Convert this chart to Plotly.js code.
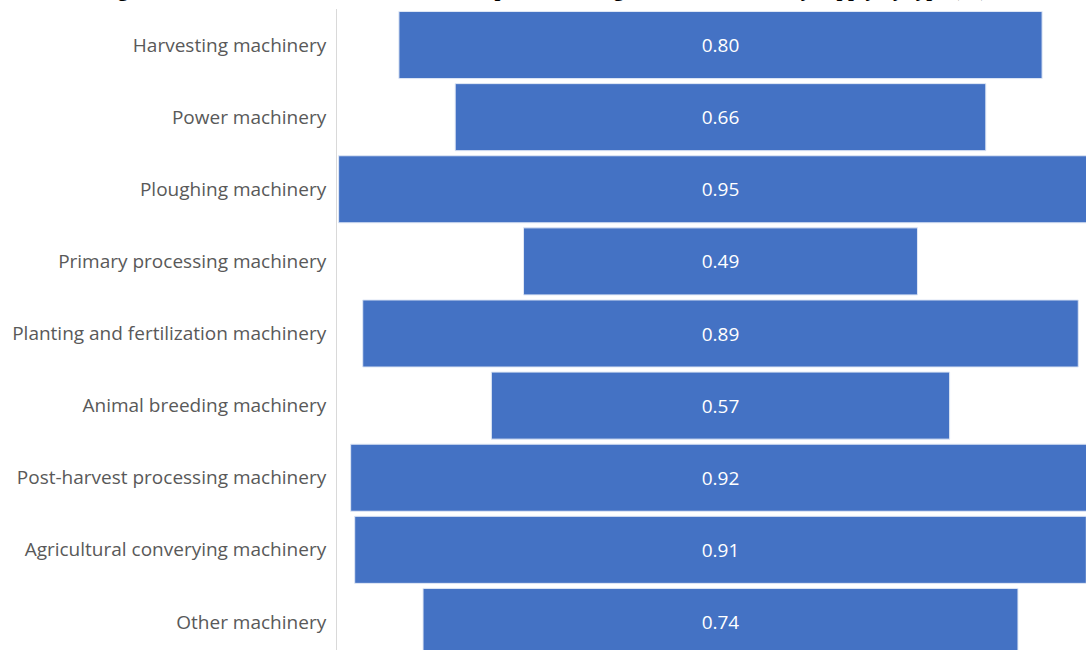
<!DOCTYPE html>
<html>
<head>
<meta charset="utf-8">
<script src="https://cdn.plot.ly/plotly-3.0.1.min.js"></script>
<style>
html, body { margin: 0; padding: 0; overflow: hidden; background: #ffffff; width: 1086px; height: 650px; }
#chart { position: absolute; left: 0; top: -60px; width: 1104px; height: 728px; }
</style>
</head>
<body>
<div id="chart"></div>
<script>
const categories = [
  "Harvesting machinery",
  "Power machinery",
  "Ploughing machinery",
  "Primary processing machinery",
  "Planting and fertilization machinery",
  "Animal breeding machinery",
  "Post-harvest processing machinery",
  "Agricultural converying machinery",
  "Other machinery"
];
const values = [0.80, 0.66, 0.95, 0.49, 0.89, 0.57, 0.92, 0.91, 0.74];
const chartTitle = "Figure 6. Farmers' satisfaction with the completeness of agricultural machinery supply by type (%)";

const trace = {
  type: "funnel",
  y: categories,
  x: values,
  orientation: "h",
  marker: { color: "#4472C4", line: { color: "#dfe7f5", width: 1 } },
  connector: { visible: false },
  texttemplate: "%{x:.2f}",
  textposition: "inside",
  insidetextanchor: "middle",
  textfont: { family: "Open Sans, sans-serif", size: 19, color: "#ffffff" },
  hoverinfo: "skip"
};

const layout = {
  width: 1104,
  height: 728,
  margin: { l: 337, r: 0, t: 69, b: 10 },
  paper_bgcolor: "#ffffff",
  plot_bgcolor: "#ffffff",
  showlegend: false,
  funnelgap: 0.07,
  font: { family: "Open Sans, sans-serif", color: "#595959" },
  xaxis: { range: [-0.477, 0.477], visible: false, showgrid: false, zeroline: false },
  yaxis: {
    type: "category",
    categoryorder: "array",
    categoryarray: categories,
    range: [8.5, -0.5],
    showline: true,
    linecolor: "#d9d9d9",
    linewidth: 1,
    ticks: "",
    ticklabelstandoff: 6,
    tickfont: { family: "Open Sans, sans-serif", size: 19, color: "#595959" },
    showgrid: false,
    zeroline: false
  },
  annotations: [{
    text: chartTitle,
    xref: "paper", yref: "paper",
    x: 0.2686, y: 1.0095,
    xanchor: "center", yanchor: "bottom",
    showarrow: false,
    font: { family: "Liberation Serif, serif", size: 21, color: "#000000", weight: "bold" }
  }]
};

Plotly.newPlot("chart", [trace], layout, { displayModeBar: false, staticPlot: true });
</script>
</body>
</html>
